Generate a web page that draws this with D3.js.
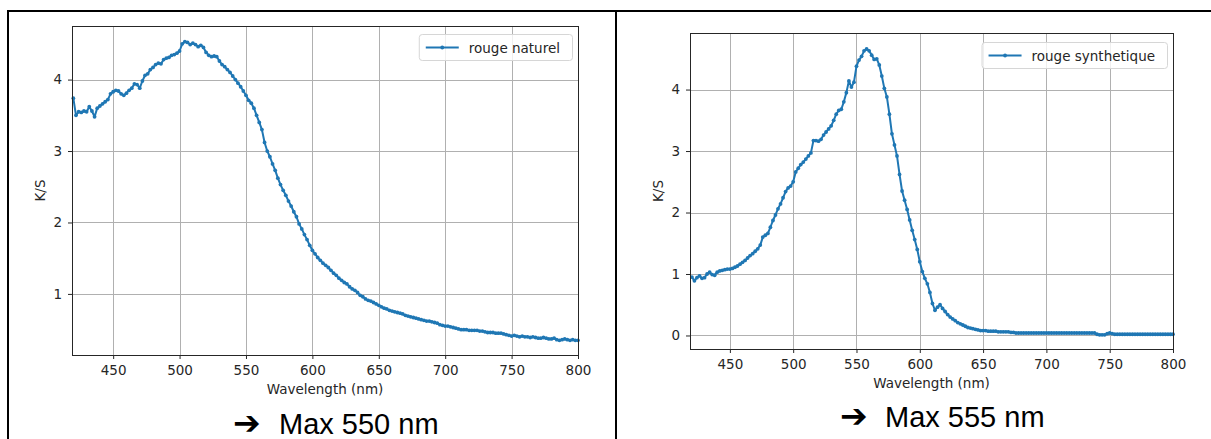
<!DOCTYPE html>
<html>
<head>
<meta charset="utf-8">
<script src="https://cdn.jsdelivr.net/npm/d3@7"></script>
<style>
  body { margin: 0; background: #fff; }
  svg { display: block; }
  .axis text { font-family: "DejaVu Sans", sans-serif; font-size: 13.5px; fill: #262626; }
  .axis line { stroke: #262626; stroke-width: 1; }
  .grid line { stroke: #b0b0b0; stroke-width: 1; shape-rendering: crispEdges; }
  .frame { fill: none; stroke: #262626; stroke-width: 1; shape-rendering: crispEdges; }
  .axis-label { font-family: "DejaVu Sans", sans-serif; font-size: 13.5px; fill: #262626; }
  .legend-box { fill: #fff; fill-opacity: 0.8; stroke: #d6d6d6; stroke-width: 1; }
  .legend-text { font-family: "DejaVu Sans", sans-serif; font-size: 13.5px; fill: #262626; }
  .series { fill: none; stroke: #1f77b4; stroke-width: 2; stroke-linejoin: round; }
  .dot { fill: #1f77b4; }
  .caption { font-family: "Liberation Sans", Arial, sans-serif; font-size: 29px; fill: #000; }
  .arrow { font-family: "DejaVu Sans", sans-serif; font-weight: bold; font-size: 33px; fill: #000; }
  .border { stroke: #000; stroke-width: 2; }
</style>
</head>
<body>
<svg id="chart" width="1211" height="439"></svg>
<script>
// wavelengths sampled every 2 nm, 420 -> 800
const wavelengths = d3.range(420, 801, 2);

const xTicks = [450, 500, 550, 600, 650, 700, 750, 800];
const naturalYTicks = [1, 2, 3, 4];
const syntheticYTicks = [0, 1, 2, 3, 4];

// K/S, rouge naturel
const naturalKS = [
  3.74, 3.50, 3.55, 3.54, 3.56, 3.55, 3.62, 3.56, 3.48, 3.60,
  3.63, 3.66, 3.69, 3.72, 3.80, 3.83, 3.85, 3.84, 3.80, 3.78,
  3.81, 3.85, 3.88, 3.94, 3.93, 3.88, 3.98, 4.06, 4.08, 4.14,
  4.17, 4.21, 4.23, 4.22, 4.28, 4.30, 4.31, 4.34, 4.35, 4.37,
  4.40, 4.50, 4.53, 4.52, 4.49, 4.51, 4.49, 4.46, 4.48, 4.45,
  4.38, 4.34, 4.32, 4.33, 4.32, 4.26, 4.21, 4.18, 4.14, 4.10,
  4.05, 4.00, 3.95, 3.90, 3.84, 3.78, 3.71, 3.67, 3.60, 3.50,
  3.40, 3.30, 3.12, 3.00, 2.92, 2.82, 2.73, 2.62, 2.53, 2.45,
  2.38, 2.30, 2.23, 2.15, 2.08, 1.98, 1.91, 1.83, 1.76, 1.68,
  1.61, 1.56, 1.51, 1.47, 1.43, 1.40, 1.37, 1.33, 1.29, 1.26,
  1.22, 1.19, 1.16, 1.14, 1.10, 1.07, 1.05, 1.02, 0.98, 0.96,
  0.93, 0.91, 0.90, 0.88, 0.86, 0.84, 0.82, 0.80, 0.79, 0.77,
  0.76, 0.75, 0.74, 0.73, 0.72, 0.70, 0.69, 0.68, 0.67, 0.66,
  0.65, 0.64, 0.63, 0.62, 0.62, 0.61, 0.60, 0.59, 0.57, 0.56,
  0.55, 0.55, 0.54, 0.53, 0.52, 0.51, 0.50, 0.50, 0.50, 0.49,
  0.49, 0.49, 0.49, 0.48, 0.48, 0.47, 0.46, 0.46, 0.46, 0.45,
  0.45, 0.45, 0.44, 0.43, 0.42, 0.41, 0.42, 0.41, 0.40, 0.41,
  0.40, 0.40, 0.39, 0.40, 0.39, 0.38, 0.38, 0.39, 0.38, 0.37,
  0.37, 0.38, 0.36, 0.35, 0.36, 0.37, 0.36, 0.35, 0.36, 0.35,
  0.35
];

// K/S, rouge synthetique
const syntheticKS = [
  0.95, 0.89, 0.94, 0.97, 0.93, 0.94, 1.00, 1.03, 0.99, 0.98,
  1.03, 1.05, 1.06, 1.07, 1.08, 1.08, 1.09, 1.11, 1.13, 1.16,
  1.19, 1.22, 1.26, 1.30, 1.33, 1.37, 1.41, 1.47, 1.60, 1.63,
  1.66, 1.76, 1.87, 1.96, 2.06, 2.14, 2.24, 2.34, 2.40, 2.43,
  2.50, 2.66, 2.72, 2.78, 2.82, 2.87, 2.92, 2.97, 3.17, 3.17,
  3.16, 3.19, 3.26, 3.31, 3.36, 3.41, 3.50, 3.60, 3.66, 3.68,
  3.80, 3.95, 4.14, 4.04, 4.12, 4.38, 4.48, 4.54, 4.63, 4.66,
  4.63, 4.56, 4.49, 4.50, 4.40, 4.22, 4.02, 3.88, 3.60, 3.28,
  3.10, 2.92, 2.62, 2.35, 2.20, 2.05, 1.88, 1.71, 1.56, 1.40,
  1.20, 1.04, 0.93, 0.84, 0.70, 0.52, 0.41, 0.46, 0.50, 0.44,
  0.39, 0.34, 0.30, 0.27, 0.24, 0.21, 0.19, 0.17, 0.15, 0.13,
  0.12, 0.11, 0.10, 0.09, 0.08, 0.08, 0.08, 0.07, 0.07, 0.07,
  0.07, 0.06, 0.06, 0.06, 0.06, 0.06, 0.05, 0.05, 0.04, 0.04,
  0.04, 0.04, 0.04, 0.04, 0.04, 0.04, 0.04, 0.04, 0.04, 0.04,
  0.04, 0.04, 0.04, 0.04, 0.04, 0.04, 0.04, 0.04, 0.04, 0.04,
  0.04, 0.04, 0.04, 0.04, 0.04, 0.04, 0.04, 0.04, 0.04, 0.04,
  0.02, 0.01, 0.01, 0.01, 0.03, 0.04, 0.03, 0.02, 0.02, 0.02,
  0.02, 0.02, 0.02, 0.02, 0.02, 0.02, 0.02, 0.02, 0.02, 0.02,
  0.02, 0.02, 0.02, 0.02, 0.02, 0.02, 0.02, 0.02, 0.02, 0.02,
  0.02
];

const svg = d3.select('#chart');

svg.append('rect').attr('width', 1211).attr('height', 439).attr('fill', '#fff');

// table borders around the two cells
svg.append('line').attr('class', 'border').attr('x1', 7).attr('x2', 1211).attr('y1', 11).attr('y2', 11);
svg.append('line').attr('class', 'border').attr('x1', 8).attr('x2', 8).attr('y1', 10).attr('y2', 439);
svg.append('line').attr('class', 'border').attr('x1', 616).attr('x2', 616).attr('y1', 10).attr('y2', 439);

function drawPanel(opts) {
  const { left, right, top, bottom } = opts.box;
  const x = d3.scaleLinear().domain(opts.xDomain).range([left, right]);
  const y = d3.scaleLinear().domain(opts.yDomain).range([bottom, top]);
  const g = svg.append('g');

  // grid
  const grid = g.append('g').attr('class', 'grid');
  grid.selectAll('.gx').data(xTicks).enter().append('line')
    .attr('x1', d => Math.round(x(d)) + 0.5).attr('x2', d => Math.round(x(d)) + 0.5)
    .attr('y1', top).attr('y2', bottom);
  grid.selectAll('.gy').data(opts.yTicks).enter().append('line')
    .attr('x1', left).attr('x2', right)
    .attr('y1', d => Math.round(y(d)) + 0.5).attr('y2', d => Math.round(y(d)) + 0.5);

  // axes
  g.append('g').attr('class', 'axis')
    .attr('transform', `translate(0,${bottom})`)
    .call(d3.axisBottom(x).tickValues(xTicks).tickSize(4).tickPadding(6).tickSizeOuter(0))
    .call(a => a.select('.domain').remove());
  g.append('g').attr('class', 'axis')
    .attr('transform', `translate(${left},0)`)
    .call(d3.axisLeft(y).tickValues(opts.yTicks).tickFormat(d3.format('d'))
      .tickSize(4).tickPadding(6).tickSizeOuter(0))
    .call(a => a.select('.domain').remove());

  // series
  const points = wavelengths.map((w, i) => ({ w, v: opts.values[i] }));
  const line = d3.line().x(d => x(d.w)).y(d => y(d.v));
  g.append('path').datum(points).attr('class', 'series').attr('d', line);
  g.selectAll('.dot').data(points).enter().append('circle')
    .attr('class', 'dot')
    .attr('cx', d => x(d.w)).attr('cy', d => y(d.v)).attr('r', 1.9);

  g.append('rect').attr('class', 'frame')
    .attr('x', left + 0.5).attr('y', top + 0.5)
    .attr('width', right - left).attr('height', bottom - top);

  // axis labels
  g.append('text').attr('class', 'axis-label')
    .attr('x', (left + right) / 2).attr('y', opts.xLabelY)
    .attr('text-anchor', 'middle').text('Wavelength (nm)');
  g.append('text').attr('class', 'axis-label')
    .attr('transform', `translate(${opts.yLabelX},${(top + bottom) / 2}) rotate(-90)`)
    .attr('text-anchor', 'middle').text('K/S');

  // legend, upper right
  const lg = g.append('g');
  const box = lg.append('rect').attr('class', 'legend-box').attr('rx', 3);
  const txt = lg.append('text').attr('class', 'legend-text').text(opts.label);
  const tw = txt.node().getComputedTextLength();
  const bw = tw + 62, bh = 26;
  const bx = right - 6 - bw, by = top + opts.legendTop;
  box.attr('x', bx + 0.5).attr('y', by + 0.5).attr('width', bw).attr('height', bh);
  lg.append('line').attr('x1', bx + 7).attr('x2', bx + 40)
    .attr('y1', by + bh / 2 + 0.5).attr('y2', by + bh / 2 + 0.5)
    .attr('stroke', '#1f77b4').attr('stroke-width', 2);
  lg.append('circle').attr('class', 'dot').attr('cx', bx + 23.5).attr('cy', by + bh / 2 + 0.5).attr('r', 1.9);
  txt.attr('x', bx + 50).attr('y', by + bh / 2 + 5.5);

  // caption under the chart
  svg.append('text').attr('class', 'arrow')
    .attr('x', opts.arrowX).attr('y', opts.arrowY).text('\u2794');
  svg.append('text').attr('class', 'caption')
    .attr('x', opts.captionX).attr('y', opts.captionY).text(opts.caption);
}

drawPanel({
  box: { left: 72, right: 578, top: 26, bottom: 355 },
  xDomain: [419, 800],
  yDomain: [0.145, 4.75],
  yTicks: naturalYTicks,
  values: naturalKS,
  label: 'rouge naturel',
  legendTop: 8,
  xLabelY: 394,
  yLabelX: 45,
  arrowX: 233,
  arrowY: 434,
  captionX: 279,
  captionY: 434,
  caption: 'Max 550 nm'
});

drawPanel({
  box: { left: 690, right: 1173, top: 33, bottom: 349 },
  xDomain: [418.5, 800],
  yDomain: [-0.22, 4.92],
  yTicks: syntheticYTicks,
  values: syntheticKS,
  label: 'rouge synthetique',
  legendTop: 9,
  xLabelY: 388,
  yLabelX: 663,
  arrowX: 840,
  arrowY: 427,
  captionX: 885,
  captionY: 427,
  caption: 'Max 555 nm'
});
</script>
</body>
</html>
